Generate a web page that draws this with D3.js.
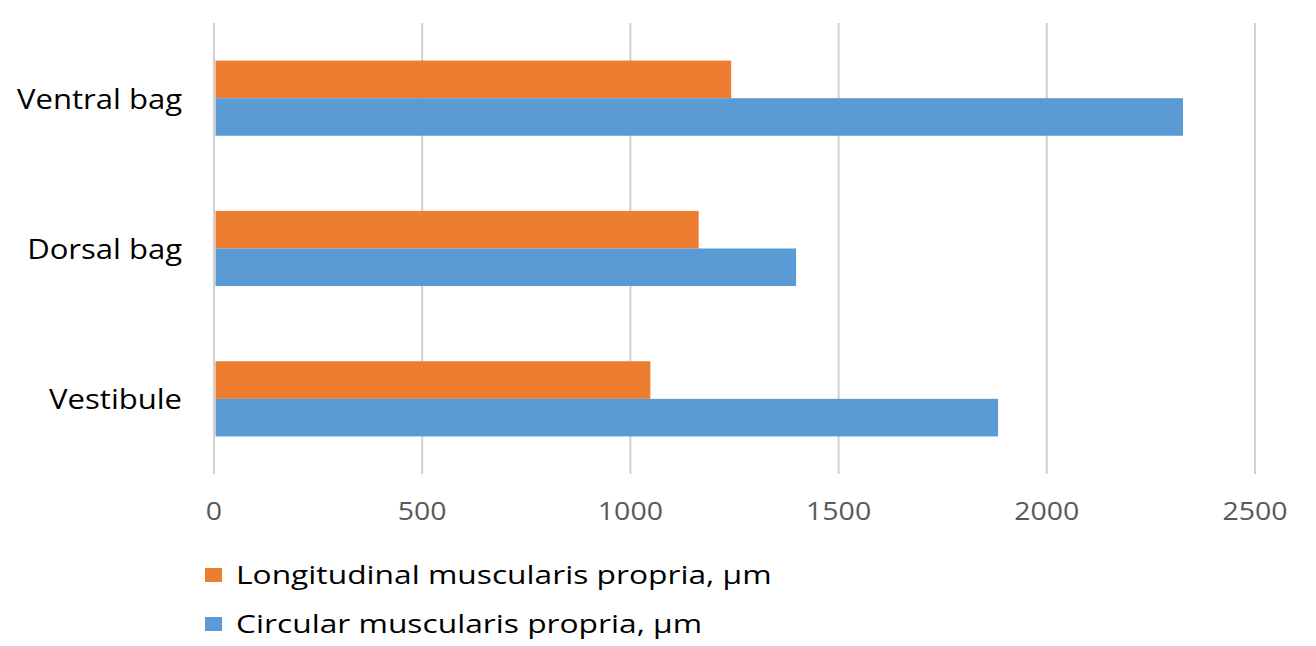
<!DOCTYPE html>
<html>
<head>
<meta charset="utf-8">
<script src="https://cdn.jsdelivr.net/npm/d3@7"></script>
<style>
  html, body { margin: 0; padding: 0; background: #fff; }
  #svg-container { width: 1316px; height: 646px; }
  text { font-family: "Open Sans", "Noto Sans", sans-serif; }
</style>
</head>
<body>
<div id="svg-container"></div>
<script>
// data
const categories = ["Ventral bag", "Dorsal bag", "Vestibule"];
const seriesNames = ["Longitudinal muscularis propria, µm", "Circular muscularis propria, µm"];
const longitudinal = [1242, 1164, 1048];
const circular = [2327, 1398, 1883];
const xTicks = [0, 500, 1000, 1500, 2000, 2500];
const colors = ["#ED7D31", "#5B9BD5"];

const width = 1316;
const height = 646;
const margin = { top: 23, right: 61, bottom: 172, left: 214 };

// the source picture is stretched sideways, so text is widened to match
const stretchCat = 1.15;
const stretchTick = 1.14;
const stretchLegend = 1.27;

const svg = d3.select("#svg-container").append("svg")
  .attr("width", width).attr("height", height);

const x = d3.scaleLinear()
  .domain([0, 2500])
  .range([margin.left, width - margin.right]);

const y = d3.scaleBand()
  .domain(categories)
  .range([margin.top, height - margin.bottom])
  .paddingInner(0.5)
  .paddingOuter(0.25);

const ySub = d3.scaleBand()
  .domain(seriesNames)
  .range([0, y.bandwidth()]);

// gridlines
svg.append("g")
  .selectAll("line")
  .data(xTicks)
  .join("line")
  .attr("x1", (d) => x(d)).attr("x2", (d) => x(d))
  .attr("y1", margin.top).attr("y2", height - margin.bottom)
  .attr("stroke", "#d0d0d0")
  .attr("stroke-width", 2);

// x tick labels
svg.append("g")
  .selectAll("text")
  .data(xTicks)
  .join("text")
  .attr("transform", (d) => `translate(${x(d)}, 520) scale(${stretchTick}, 1)`)
  .attr("text-anchor", "middle")
  .attr("font-size", 25)
  .attr("fill", "#595959")
  .text((d) => d);

// bars
const rows = categories.map((c, i) => ({
  cat: c,
  values: [longitudinal[i], circular[i]],
}));

const groups = svg.append("g")
  .selectAll("g")
  .data(rows)
  .join("g")
  .attr("transform", (d) => `translate(0, ${y(d.cat)})`);

groups.selectAll("rect")
  .data((d) => d.values.map((v, j) => ({ name: seriesNames[j], value: v, j })))
  .join("rect")
  .attr("x", x(0) + 1.5)
  .attr("y", (d) => ySub(d.name))
  .attr("width", (d) => x(d.value) - x(0) - 1.5)
  .attr("height", ySub.bandwidth())
  .attr("fill", (d) => colors[d.j]);

// category labels
svg.append("g")
  .selectAll("text")
  .data(categories)
  .join("text")
  .attr("transform", (d) => `translate(182, ${y(d) + y.bandwidth() / 2 + 1}) scale(${stretchCat}, 1)`)
  .attr("dy", "0.35em")
  .attr("text-anchor", "end")
  .attr("font-size", 27)
  .attr("fill", "#000")
  .text((d) => d);

// legend
const legend = svg.append("g")
  .selectAll("g")
  .data(seriesNames)
  .join("g")
  .attr("transform", (d, i) => `translate(205, ${575 + i * 49})`);

legend.append("rect")
  .attr("x", 0).attr("y", -7)
  .attr("width", 17).attr("height", 14)
  .attr("fill", (d, i) => colors[i]);

legend.append("text")
  .attr("transform", `translate(31, 0) scale(${stretchLegend}, 1)`)
  .attr("dy", "0.35em")
  .attr("font-size", 25)
  .attr("fill", "#000")
  .text((d) => d);
</script>
</body>
</html>
